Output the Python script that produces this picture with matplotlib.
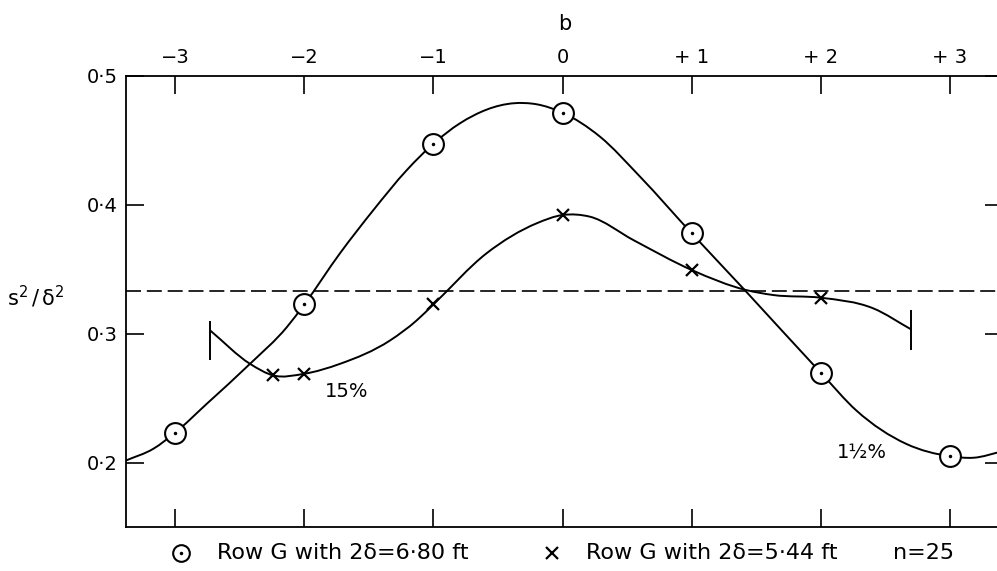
import matplotlib
matplotlib.use("Agg")
import matplotlib.pyplot as plt
import numpy as np
from matplotlib.path import Path
from matplotlib.patches import PathPatch
from matplotlib.lines import Line2D

plt.rcParams['font.family'] = ['DejaVu Sans']
plt.rcParams['mathtext.fontset'] = 'dejavusans'

# plotted points, b = -3 .. +3
b_circ = [-3, -2, -1, 0, 1, 2, 3]
s_circ = [0.2233, 0.3227, 0.4473, 0.4713, 0.3778, 0.2697, 0.2051]

b_cross = [-2.24, -2, -1, 0, 1, 2]
s_cross = [0.2677, 0.269, 0.3227, 0.392, 0.3494, 0.3279]

# extra points along the hand-drawn curves between the plotted points
tr_circ_b = [-3.38, -3.168, -2.755, -2.42, -2.135, -1.723, -1.465, -1.207,
             -0.794, -0.38, -0.2, 0.29, 0.6, 1.41, 2.275, 2.66, 3.18, 3.41]
tr_circ_s = [0.2018, 0.2109, 0.2457, 0.2767, 0.3051, 0.3624, 0.3958, 0.4267,
             0.4631, 0.4786, 0.4778, 0.4527, 0.4217, 0.3339, 0.2405, 0.2147,
             0.2039, 0.209]

tr_cross_b = [-2.729, -2.42, -1.723, -1.336, -1.13, -0.589, -0.2,
              0.212, 0.55, 1.42, 1.632, 2.405, 2.70]
tr_cross_s = [0.3026, 0.2767, 0.2767, 0.2948, 0.3103, 0.3623, 0.3856,
              0.3907, 0.3725, 0.3339, 0.33, 0.3197, 0.3033]

# end bars of the x-curve
bar_b = [-2.729, 2.70]
bar_lo = [0.2794, 0.2872]
bar_hi = [0.3102, 0.3182]

ref_level = 0.333

xticks = [-3, -2, -1, 0, 1, 2, 3]
xticklabels = ['\u22123', '\u22122', '\u22121', '0', '+ 1', '+ 2', '+ 3']
yticks = [0.2, 0.3, 0.4, 0.5]
yticklabels = ['0\u00b72', '0\u00b73', '0\u00b74', '0\u00b75']


def smooth_path(xs, ys):
    # cubic Hermite curve y(x) through the knots, as Bezier segments
    order = np.argsort(xs)
    x = np.asarray(xs, float)[order]
    y = np.asarray(ys, float)[order]
    h = np.diff(x)
    d = np.diff(y) / h
    m = np.empty_like(y)
    m[0], m[-1] = d[0], d[-1]
    m[1:-1] = (h[:-1] * d[1:] + h[1:] * d[:-1]) / (h[:-1] + h[1:])
    verts = [(x[0], y[0])]
    codes = [Path.MOVETO]
    for i in range(len(x) - 1):
        t = h[i] / 3.0
        verts += [(x[i] + t, y[i] + m[i] * t),
                  (x[i + 1] - t, y[i + 1] - m[i + 1] * t),
                  (x[i + 1], y[i + 1])]
        codes += [Path.CURVE4] * 3
    return Path(verts, codes)


fig = plt.figure(figsize=(9.97, 5.71), dpi=100)
ax = fig.add_axes([0.1264, 0.0765, 0.8796, 0.791])
ax.set_xlim(-3.38, 3.41)
ax.set_ylim(0.15, 0.5)

lw = 1.4
ax.add_patch(PathPatch(smooth_path(b_circ + tr_circ_b, s_circ + tr_circ_s),
                       fill=False, lw=lw, color='black', zorder=2))
ax.add_patch(PathPatch(smooth_path(b_cross + tr_cross_b, s_cross + tr_cross_s),
                       fill=False, lw=lw, color='black', zorder=2))
ax.vlines(bar_b, bar_lo, bar_hi, color='black', lw=lw, zorder=2)

ax.axhline(ref_level, color='black', lw=1.2, dashes=(9, 3.5), zorder=1)

ax.plot(b_circ, s_circ, 'o', ms=15, mfc='white', mec='black', mew=1.5, zorder=3)
ax.plot(b_circ, s_circ, '.', ms=3, color='black', zorder=4)
ax.plot(b_cross, s_cross, 'x', ms=8.5, color='black', mew=1.6, zorder=3)

ax.text(-1.67, 0.255, '15%', fontsize=14, ha='center', va='center')
ax.text(2.315, 0.2073, '1\u00bd%', fontsize=14, ha='center', va='center')

for side in ['left', 'right', 'top', 'bottom']:
    ax.spines[side].set_linewidth(1.3)

ax.set_xticks(xticks)
ax.set_xticklabels(xticklabels, fontsize=14)
ax.set_yticks(yticks)
ax.set_yticklabels(yticklabels, fontsize=14)
ax.tick_params(axis='x', direction='in', length=13, width=1.2,
               top=True, bottom=True, labeltop=True, labelbottom=False, pad=6)
ax.tick_params(axis='y', direction='in', length=13, width=1.2,
               left=True, right=True, labelleft=True, labelright=False, pad=6)

ax.xaxis.set_label_position('top')
ax.set_xlabel('b', fontsize=15, labelpad=13)

fig.text(0.036, 1 - 297 / 571, r'$\mathregular{s^2\,/\,\delta^2}$', fontsize=15,
         ha='center', va='center')

# key below the axes
ky = 1 - 553 / 571
fig.add_artist(Line2D([181 / 997], [ky], marker='o', ms=12, mfc='white',
                      mec='black', mew=1.5, transform=fig.transFigure))
fig.add_artist(Line2D([181 / 997], [ky], marker='.', ms=3, color='black',
                      transform=fig.transFigure))
fig.text(217 / 997, ky, 'Row G with 2\u03b4=6\u00b780 ft', fontsize=16, va='center')
fig.add_artist(Line2D([552 / 997], [ky], marker='x', ms=8, color='black',
                      mew=1.6, transform=fig.transFigure))
fig.text(586 / 997, ky, 'Row G with 2\u03b4=5\u00b744 ft', fontsize=16, va='center')
fig.text(893 / 997, ky, 'n=25', fontsize=16, va='center')

fig.savefig('out.png', dpi=100)
